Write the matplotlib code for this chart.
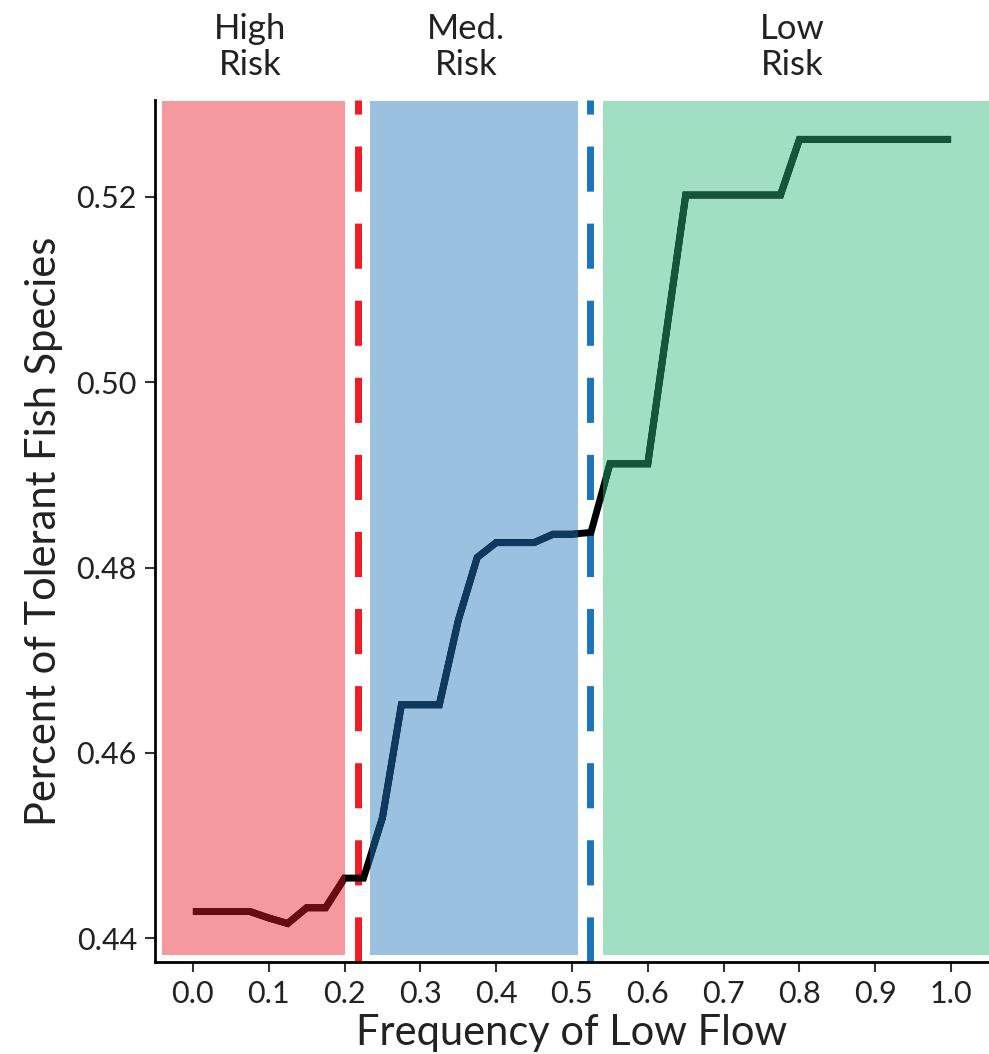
import matplotlib
matplotlib.use("Agg")
import matplotlib.pyplot as plt
from matplotlib.patches import Rectangle

plt.rcParams['font.family'] = ['Lato', 'DejaVu Sans']

# Response curve: share of tolerant fish species vs. frequency of low flow
low_flow = [0.0, 0.075, 0.1, 0.125, 0.15, 0.175, 0.2, 0.225, 0.25, 0.275,
            0.325, 0.35, 0.375, 0.4, 0.45, 0.475, 0.5, 0.525, 0.55, 0.6,
            0.65, 0.775, 0.8, 1.0]
tolerant = [0.4429, 0.4429, 0.4422, 0.4416, 0.4433, 0.4433, 0.4465, 0.4465,
            0.4530, 0.4652, 0.4652, 0.4743, 0.4811, 0.4827, 0.4827, 0.4836,
            0.4836, 0.4838, 0.4912, 0.4912, 0.5202, 0.5202, 0.5262, 0.5262]

# Risk zones and thresholds
zone_labels = ["High\nRisk", "Med.\nRisk", "Low\nRisk"]
zone_left = [-0.041, 0.233, 0.541]
zone_right = [0.201, 0.508, 1.06]
zone_label_x = [0.075, 0.36, 0.79]
zone_fill = ["#F5999E", "#9BC1E1", "#A0DFC2"]
zone_line = ["#6A0B12", "#0E3A5F", "#14563A"]
thresholds = [0.218, 0.524]
threshold_colors = ["#EE1C25", "#1B75BB"]

x_ticks = [0.0, 0.1, 0.2, 0.3, 0.4, 0.5, 0.6, 0.7, 0.8, 0.9, 1.0]
y_ticks = [0.44, 0.46, 0.48, 0.50, 0.52]

fig = plt.figure(figsize=(9.89, 10.54), dpi=100)
ax = fig.add_axes([0.1567, 0.0873, 0.8433, 0.8178])
ax.set_xlim(-0.05, 1.05)
ax.set_ylim(0.43745, 0.53045)

y_lo, y_hi = 0.4382, 0.5303
patches = []
for left, right, fc in zip(zone_left, zone_right, zone_fill):
    r = Rectangle((left, y_lo), right - left, y_hi - y_lo, facecolor=fc,
                  edgecolor="none", zorder=1)
    ax.add_patch(r)
    patches.append(r)

for xv, c in zip(thresholds, threshold_colors):
    ax.axvline(xv, color=c, lw=5, dashes=(6.5, 4.6), zorder=2)

# Base line in black, recoloured inside each zone
ax.plot(low_flow, tolerant, color="black", lw=5, zorder=3,
        solid_joinstyle="miter", solid_capstyle="butt")
for r, c in zip(patches, zone_line):
    ln, = ax.plot(low_flow, tolerant, color=c, lw=5, zorder=4,
                  solid_joinstyle="miter", solid_capstyle="butt")
    ln.set_clip_path(r)

for lbl, xv in zip(zone_labels, zone_label_x):
    ax.text(xv, 1.062, lbl, transform=ax.get_xaxis_transform(),
            ha="center", va="center", fontsize=25, color="#222222",
            linespacing=1.15)

ax.set_xticks(x_ticks)
ax.set_xticklabels([f"{v:.1f}" for v in x_ticks])
ax.set_yticks(y_ticks)
ax.set_yticklabels([f"{v:.2f}" for v in y_ticks])
ax.tick_params(axis="both", labelsize=22, colors="#333333", length=7,
               width=1.5, pad=6)
ax.tick_params(axis="both", labelcolor="#222222")

for s in ["top", "right"]:
    ax.spines[s].set_visible(False)
for s in ["left", "bottom"]:
    ax.spines[s].set_linewidth(2)
    ax.spines[s].set_color("black")

ax.set_xlabel("Frequency of Low Flow", fontsize=30, color="#222222",
              labelpad=4)
ax.set_ylabel("Percent of Tolerant Fish Species", fontsize=30,
              color="#222222", labelpad=10)

fig.savefig("out.png", dpi=100)
